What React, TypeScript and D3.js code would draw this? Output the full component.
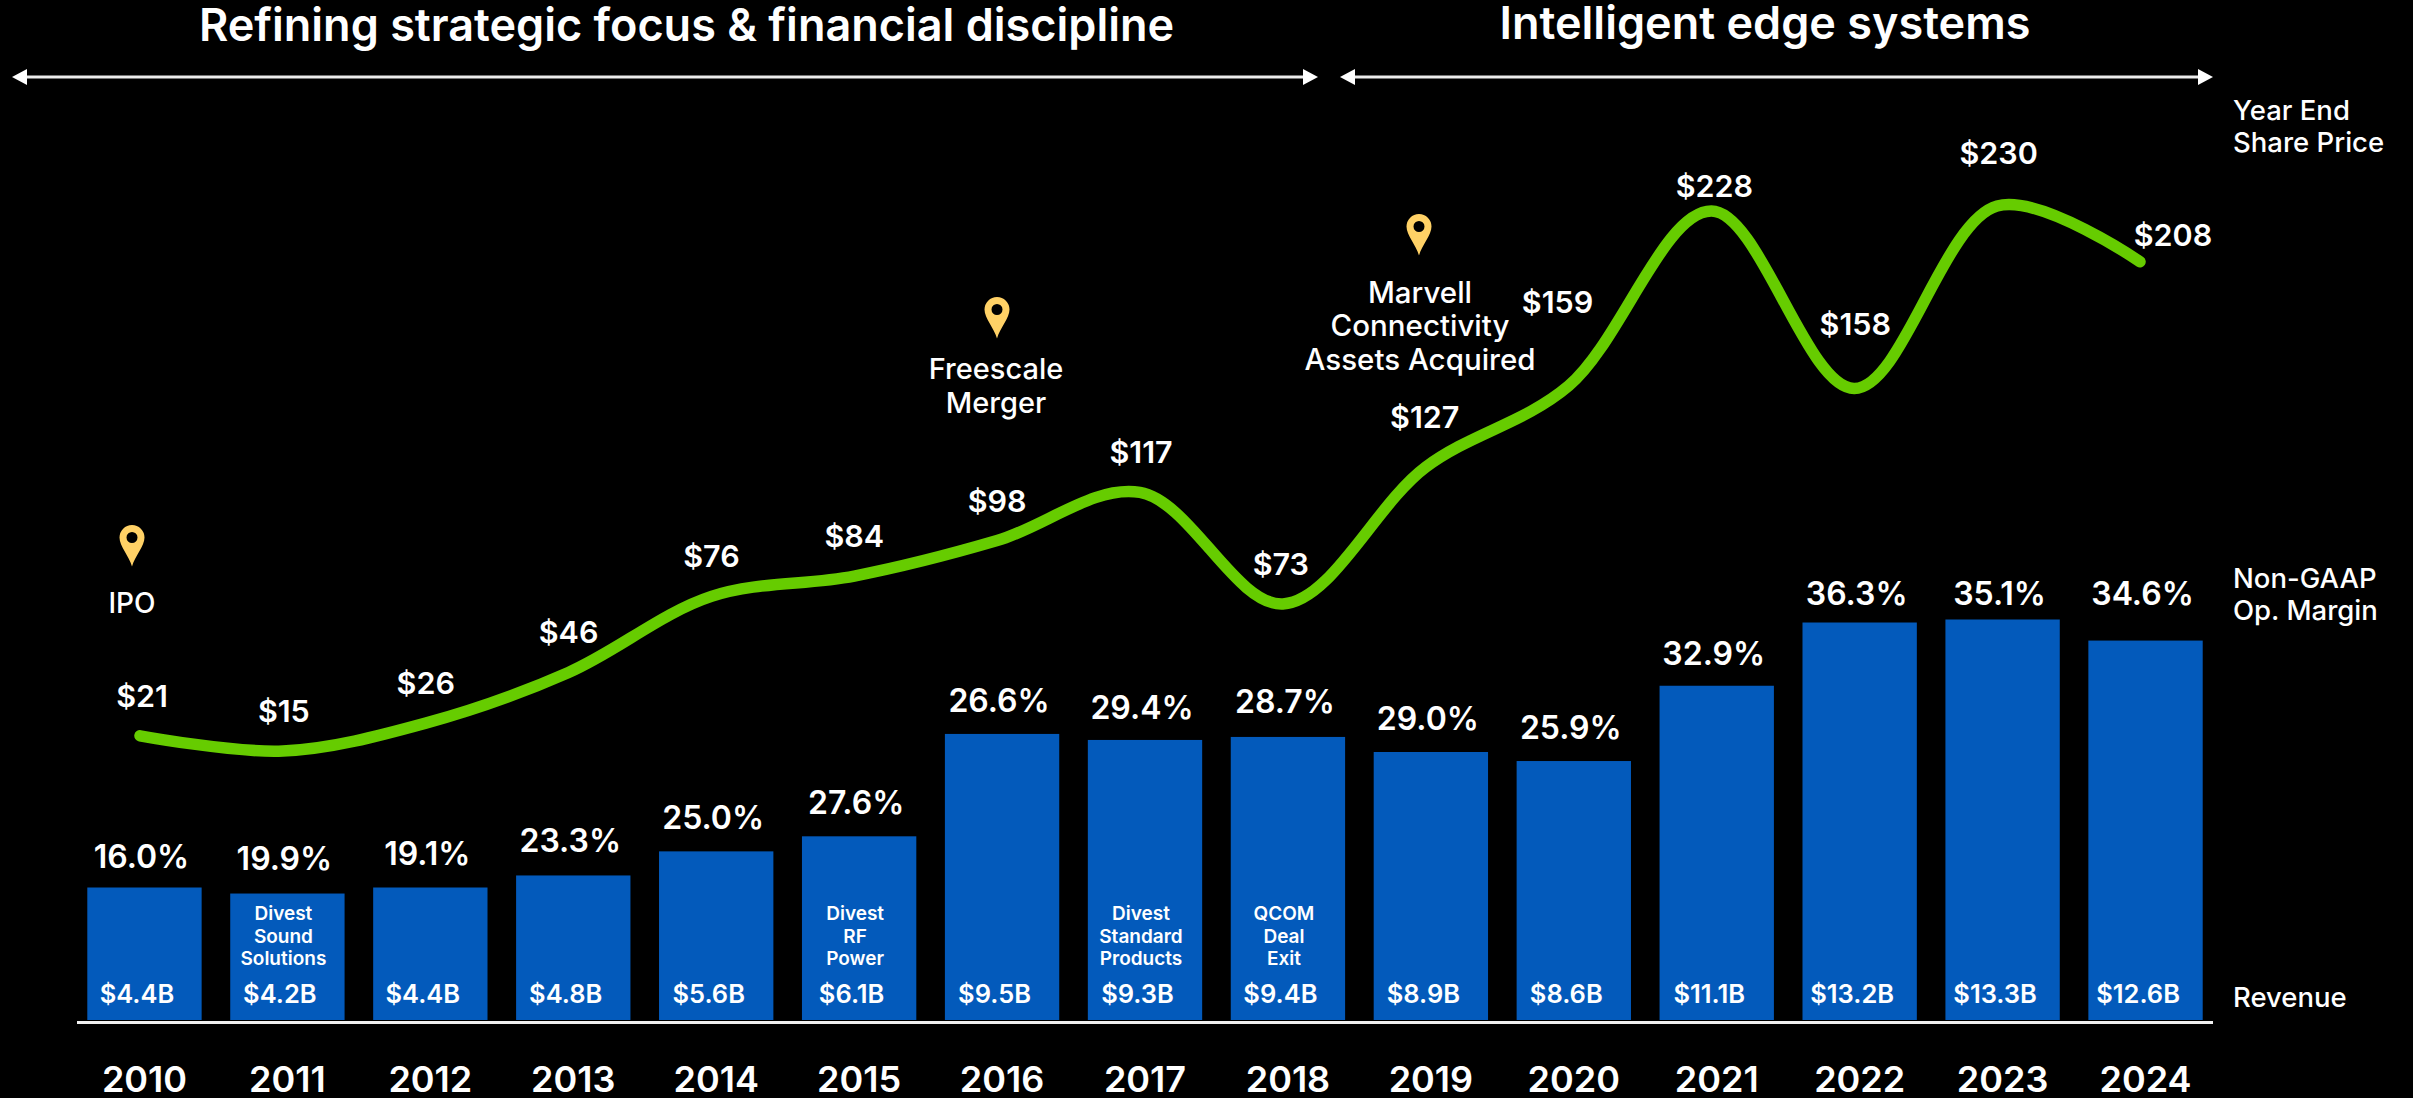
import * as d3 from 'd3'

const years = ['2010', '2011', '2012', '2013', '2014', '2015', '2016', '2017', '2018', '2019', '2020', '2021', '2022', '2023', '2024']
const revenue = [4.4, 4.2, 4.4, 4.8, 5.6, 6.1, 9.5, 9.3, 9.4, 8.9, 8.6, 11.1, 13.2, 13.3, 12.6]
const margin = [16.0, 19.9, 19.1, 23.3, 25.0, 27.6, 26.6, 29.4, 28.7, 29.0, 25.9, 32.9, 36.3, 35.1, 34.6]
const price = [21, 15, 26, 46, 76, 84, 98, 117, 73, 127, 159, 228, 158, 230, 208]

const barNotes: Record<string, string[]> = {
  '2011': ['Divest', 'Sound', 'Solutions'],
  '2015': ['Divest', 'RF', 'Power'],
  '2017': ['Divest', 'Standard', 'Products'],
  '2018': ['QCOM', 'Deal', 'Exit'],
}

// hand placed labels in the original, nudged off their default spot
const marginNudge: Record<string, number> = { '2010': 2, '2011': -2, '2012': -1, '2013': -1, '2017': 1, '2018': -2, '2021': 1, '2022': 4, '2023': 7, '2024': -14 }
const priceNudge: Record<string, [number, number]> = {
  '2010': [2, 0], '2011': [1, 0], '2017': [1, 0], '2018': [-2, 0], '2019': [-1, -10], '2020': [-11, -44],
  '2021': [3, 15], '2022': [1, -25], '2023': [1.5, -13], '2024': [33, 13],
}

const W = 2413
const H = 1098
const FONT = 'Inter, sans-serif'
const WHITE = '#ffffff'
const BLUE = '#035abb'
const GREEN = '#66cc00'
const PIN = '#ffd166'

const x = d3.scaleBand().domain(years).range([73, 2217]).paddingInner(0.2).paddingOuter(0.1)
const y = d3.scaleLinear().domain([0, 13.3]).range([1020, 619.5])
const xLine = d3.scalePoint().domain(years).range([140, 2140])
const yPrice = d3.scaleLinear().domain([15, 230]).range([751, 206])

const pricePath = d3
  .line<number>()
  .x((_, i) => xLine(years[i]) as number)
  .y((d) => yPrice(d))
  .curve(d3.curveCatmullRom.alpha(0.5))(price) as string

const Pin = ({ cx, top }: { cx: number; top: number }) => (
  <g transform={`translate(${cx},${top})`}>
    <path
      fill={PIN}
      fillRule="evenodd"
      d="M0,41.5 C-3,31 -12.5,21 -12.5,12.5 A12.5,12.5 0 1 1 12.5,12.5 C12.5,21 3,31 0,41.5 Z M0,7 A5.5,5.5 0 1 0 0,18 A5.5,5.5 0 1 0 0,7 Z"
    />
  </g>
)

const Span = ({ x1, x2, yy }: { x1: number; x2: number; yy: number }) => (
  <g>
    <line x1={x1 + 10} x2={x2 - 10} y1={yy} y2={yy} stroke="#ececec" strokeWidth={3} />
    <path d={`M${x1},${yy} L${x1 + 15},${yy - 8} L${x1 + 15},${yy + 8} Z`} fill={WHITE} />
    <path d={`M${x2},${yy} L${x2 - 15},${yy - 8} L${x2 - 15},${yy + 8} Z`} fill={WHITE} />
  </g>
)

const Lines = ({ lines, cx, y0, dy, size, weight }: { lines: string[]; cx: number; y0: number; dy: number; size: number; weight: number }) => (
  <text textAnchor="middle" fontSize={size} fontWeight={weight} fill={WHITE}>
    {lines.map((t, i) => (
      <tspan key={t} x={cx} y={y0 + i * dy}>
        {t}
      </tspan>
    ))}
  </text>
)

export default function App() {
  const band = x.bandwidth()
  return (
    <svg width={W} height={H} fontFamily={FONT} style={{ position: 'absolute', left: 0, top: 0, background: '#000' }}>
      <rect width={W} height={H} fill="#000" />

      <text x={686.5} y={41} textAnchor="middle" fontSize={45} fontWeight={600} fill={WHITE}>
        Refining strategic focus &amp; financial discipline
      </text>
      <text x={1765} y={39} textAnchor="middle" fontSize={45} fontWeight={600} fill={WHITE}>
        Intelligent edge systems
      </text>
      <Span x1={12} x2={1318} yy={77} />
      <Span x1={1340} x2={2213} yy={77} />

      {years.map((yr, i) => (
        <rect key={yr} x={x(yr)} y={y(revenue[i])} width={band} height={y(0) - y(revenue[i])} fill={BLUE} />
      ))}
      <line x1={77} x2={2213} y1={1022.5} y2={1022.5} stroke="#f0f0f0" strokeWidth={3} />

      <path d={pricePath} fill="none" stroke={GREEN} strokeWidth={11.5} strokeLinecap="round" />

      {years.map((yr, i) => {
        const c = (x(yr) as number) + band / 2
        const [ndx, ndy] = priceNudge[yr] ?? [0, 0]
        return (
          <g key={yr} fill={WHITE} textAnchor="middle">
            <text x={c - 3} y={y(revenue[i]) - 22 + (marginNudge[yr] ?? 0)} fontSize={32} fontWeight={600}>
              {margin[i].toFixed(1)}%
            </text>
            <text x={c - 7.5} y={1003} fontSize={25.5} fontWeight={600}>
              ${revenue[i].toFixed(1)}B
            </text>
            <text x={c} y={1092} fontSize={36} fontWeight={600}>
              {yr}
            </text>
            <text x={xLine(yr) as number + ndx} y={yPrice(price[i]) - 29 + ndy} fontSize={30.5} fontWeight={600}>
              ${price[i]}
            </text>
            {barNotes[yr] && <Lines lines={barNotes[yr]} cx={c - 4} y0={920} dy={22.7} size={19} weight={600} />}
          </g>
        )
      })}

      <Pin cx={132} top={525} />
      <Lines lines={['IPO']} cx={132} y0={613} dy={0} size={28} weight={500} />
      <Pin cx={997} top={297} />
      <Lines lines={['Freescale', 'Merger']} cx={996} y0={379} dy={33.5} size={29} weight={500} />
      <Pin cx={1419} top={214} />
      <Lines lines={['Marvell', 'Connectivity', 'Assets Acquired']} cx={1420} y0={303} dy={33.3} size={29.5} weight={500} />

      <g fontSize={27.5} fontWeight={500} fill={WHITE}>
        <text x={2233} y={120}>Year End</text>
        <text x={2233} y={152}>Share Price</text>
        <text x={2233} y={588}>Non-GAAP</text>
        <text x={2233} y={620}>Op. Margin</text>
        <text x={2233} y={1007}>Revenue</text>
      </g>
    </svg>
  )
}
